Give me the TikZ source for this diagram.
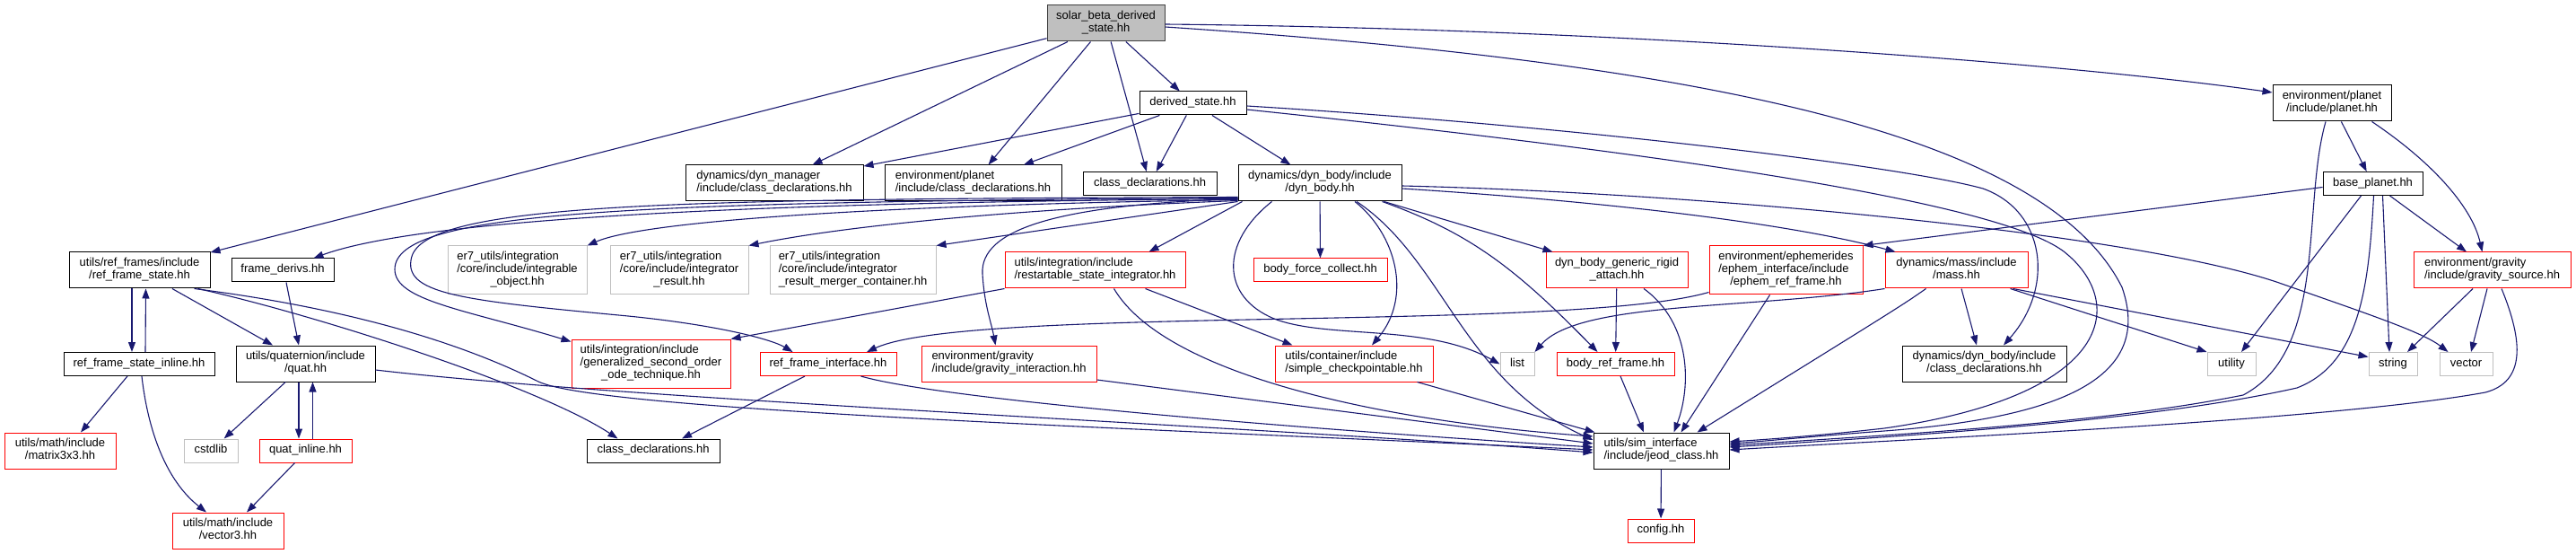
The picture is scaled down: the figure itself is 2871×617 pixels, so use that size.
\documentclass[tikz,border=0pt]{standalone}
\usepackage{fontspec}
\setmainfont{Liberation Sans}
\usetikzlibrary{arrows.meta,calc}
\definecolor{edgec}{HTML}{191970}
\definecolor{graybd}{HTML}{BFBFBF}
\definecolor{rootfill}{HTML}{BFBFBF}
\definecolor{rootbd}{HTML}{404040}
\definecolor{redbd}{HTML}{FF0000}
\newcommand{\ml}[2]{\begin{tabular}{@{}l@{}}#1\\\multicolumn{1}{@{}c@{}}{#2}\end{tabular}}
\newcommand{\one}[1]{\begin{tabular}{@{}c@{}}#1\end{tabular}}
\begin{document}
\begin{tikzpicture}[x=1pt,y=-1pt,
  every node/.style={font=\fontsize{13}{14}\selectfont},
  box/.style={draw, rectangle, inner sep=0pt, line width=1pt, align=center},
  doc/.style={box, draw=black},
  ext/.style={box, draw=graybd},
  trunc/.style={box, draw=redbd},
  root/.style={box, draw=rootbd, fill=rootfill},
  e/.style={draw=edgec, line width=1.1pt, -{Triangle[length=11pt,width=8pt]}}]
\fill[white] (0,0) rectangle (2871,617);
\useasboundingbox (0,0) rectangle (2871,617);

% nodes
\node[root, minimum width=131pt, minimum height=40pt] (solar) at (1232.5,26) {\ml{solar\_beta\_derived}{\_state.hh}};
\node[doc, minimum width=119pt, minimum height=26pt] (derived) at (1329.5,115) {\one{derived\_state.hh}};
\node[doc, minimum width=198pt, minimum height=40pt] (dmcd) at (863,204) {\ml{dynamics/dyn\_manager}{/include/class\_declarations.hh}};
\node[doc, minimum width=197pt, minimum height=40pt] (epcd) at (1084.5,204) {\ml{environment/planet}{/include/class\_declarations.hh}};
\node[doc, minimum width=149pt, minimum height=26pt] (cd) at (1281.5,204.5) {\one{class\_declarations.hh}};
\node[doc, minimum width=182pt, minimum height=40pt] (dynbody) at (1471,204) {\ml{dynamics/dyn\_body/include}{/dyn\_body.hh}};
\node[doc, minimum width=132pt, minimum height=40pt] (planet) at (2599,115) {\ml{environment/planet}{/include/planet.hh}};
\node[doc, minimum width=111pt, minimum height=26pt] (baseplanet) at (2644.5,204.5) {\one{base\_planet.hh}};

\node[doc, minimum width=157pt, minimum height=40pt] (rfs) at (155.5,301) {\ml{utils/ref\_frames/include}{/ref\_frame\_state.hh}};
\node[doc, minimum width=114pt, minimum height=26pt] (framederivs) at (315,301) {\one{frame\_derivs.hh}};
\node[ext, minimum width=155pt, minimum height=54pt] (er7a) at (576.5,301) {\ml{er7\_utils/integration\\/core/include/integrable}{\_object.hh}};
\node[ext, minimum width=154pt, minimum height=54pt] (er7b) at (757,301) {\ml{er7\_utils/integration\\/core/include/integrator}{\_result.hh}};
\node[ext, minimum width=185pt, minimum height=54pt] (er7c) at (950.5,301) {\ml{er7\_utils/integration\\/core/include/integrator}{\_result\_merger\_container.hh}};
\node[trunc, minimum width=201pt, minimum height=40pt] (restart) at (1220.5,301) {\ml{utils/integration/include}{/restartable\_state\_integrator.hh}};
\node[trunc, minimum width=149pt, minimum height=26pt] (bfc) at (1471.5,301) {\one{body\_force\_collect.hh}};
\node[trunc, minimum width=158pt, minimum height=40pt] (rigid) at (1802,301) {\ml{dyn\_body\_generic\_rigid}{\_attach.hh}};
\node[trunc, minimum width=171pt, minimum height=54pt] (ephem) at (1990.5,301) {\ml{environment/ephemerides\\/ephem\_interface/include}{/ephem\_ref\_frame.hh}};
\node[trunc, minimum width=159pt, minimum height=40pt] (mass) at (2180.5,301) {\ml{dynamics/mass/include}{/mass.hh}};
\node[trunc, minimum width=175pt, minimum height=40pt] (gsrc) at (2777.5,301) {\ml{environment/gravity}{/include/gravity\_source.hh}};

\node[doc, minimum width=168pt, minimum height=26pt] (rfsi) at (155,405.5) {\one{ref\_frame\_state\_inline.hh}};
\node[doc, minimum width=155pt, minimum height=40pt] (quat) at (340.5,405) {\ml{utils/quaternion/include}{/quat.hh}};
\node[trunc, minimum width=177pt, minimum height=54pt] (gsoo) at (725.5,405) {\ml{utils/integration/include\\/generalized\_second\_order}{\_ode\_technique.hh}};
\node[trunc, minimum width=152pt, minimum height=26pt] (rfi) at (923,405.5) {\one{ref\_frame\_interface.hh}};
\node[trunc, minimum width=195pt, minimum height=40pt] (gint) at (1124.5,405) {\ml{environment/gravity}{/include/gravity\_interaction.hh}};
\node[trunc, minimum width=176pt, minimum height=40pt] (scp) at (1509,405) {\ml{utils/container/include}{/simple\_checkpointable.hh}};
\node[ext, minimum width=38pt, minimum height=26pt] (list) at (1691,405.5) {\one{list}};
\node[trunc, minimum width=131pt, minimum height=26pt] (brf) at (1800.5,405.5) {\one{body\_ref\_frame.hh}};
\node[doc, minimum width=183pt, minimum height=40pt] (dbcd) at (2211.5,405) {\ml{dynamics/dyn\_body/include}{/class\_declarations.hh}};
\node[ext, minimum width=54pt, minimum height=26pt] (utility) at (2487,405.5) {\one{utility}};
\node[ext, minimum width=54pt, minimum height=26pt] (string) at (2667,405.5) {\one{string}};
\node[ext, minimum width=59pt, minimum height=26pt] (vector) at (2748.5,405.5) {\one{vector}};

\node[trunc, minimum width=124pt, minimum height=40pt] (m33) at (67,502) {\ml{utils/math/include}{/matrix3x3.hh}};
\node[ext, minimum width=60pt, minimum height=26pt] (cstdlib) at (235,502) {\one{cstdlib}};
\node[trunc, minimum width=103pt, minimum height=26pt] (qinl) at (340.5,502) {\one{quat\_inline.hh}};
\node[doc, minimum width=148pt, minimum height=26pt] (cd2) at (728,502) {\one{class\_declarations.hh}};
\node[doc, minimum width=151pt, minimum height=40pt] (jeod) at (1851.5,502) {\ml{utils/sim\_interface}{/include/jeod\_class.hh}};
\node[trunc, minimum width=124pt, minimum height=40pt] (v3) at (254,591) {\ml{utils/math/include}{/vector3.hh}};
\node[trunc, minimum width=74pt, minimum height=26pt] (config) at (1851,591) {\one{config.hh}};

% solar edges
\draw[e] (solar) -- (rfs);
\draw[e] (solar) -- (dmcd);
\draw[e] (solar) -- (epcd);
\draw[e] (solar) -- (cd);
\draw[e] (solar) -- (derived);
\draw[e] ($(solar.east)+(0,1)$) .. controls (1800,32) and (2300,70) .. ($(planet.west)+(0,-12)$);
\draw[e] ($(solar.east)+(0,4)$) .. controls (1900,70) and (2280,150) .. (2365,320) .. controls (2400,420) and (2300,465) .. (2100,480) .. controls (2020,486) and (1960,492) .. ($(jeod.east)+(0,-8)$);

% derived edges
\draw[e] (derived) -- (dmcd);
\draw[e] (derived) -- (epcd);
\draw[e] (derived) -- (cd);
\draw[e] (derived) -- (dynbody);
\draw[e] ($(derived.east)+(0,3)$) .. controls (1750,140) and (2120,185) .. (2210,210) .. controls (2280,235) and (2290,320) .. ($(dbcd.north)+(21.5,0)$);
\draw[e] ($(derived.east)+(0,7)$) .. controls (1800,165) and (2220,220) .. (2300,280) .. controls (2370,335) and (2360,440) .. (2100,477) .. controls (2020,486) and (1960,490) .. ($(jeod.east)+(0,-10)$);

% dyn_body edges
\draw[e] ($(dynbody.south west)+(0,-3)$) .. controls (900,225) and (480,240) .. ($(framederivs.north east)+(-23,0)$);
\draw[e] ($(dynbody.south west)+(0,-2)$) .. controls (1000,228) and (720,245) .. (er7a.north east);
\draw[e] ($(dynbody.south west)+(0,-1)$) .. controls (1150,232) and (950,250) .. (er7b.north east);
\draw[e] (dynbody.south west) -- (er7c.north east);
\draw[e] ($(dynbody.south west)+(0,-4)$) .. controls (700,225) and (440,235) .. (440,300) .. controls (440,335) and (520,345) .. ($(gsoo.north west)+(0,3)$);
\draw[e] ($(dynbody.south west)+(0,-5)$) .. controls (750,222) and (465,225) .. (458,290) .. controls (452,328) and (520,335) .. (700,352) .. controls (800,362) and (860,378) .. ($(rfi.north west)+(37,0)$);
\draw[e] ($(dynbody.south west)+(5,0)$) -- ($(restart.north)+(60,0)$);
\draw[e] ($(dynbody.south west)+(0,-3)$) .. controls (1180,228) and (1092,255) .. (1095,305) .. controls (1097,340) and (1105,360) .. ($(gint.north)+(-15,0)$);
\draw[e] (dynbody) -- (bfc);
\draw[e] ($(dynbody.south)+(39,0)$) .. controls (1555,260) and (1575,330) .. ($(scp.north)+(20,0)$);
\draw[e] ($(dynbody.south west)+(38,0)$) .. controls (1360,270) and (1360,330) .. (1420,355) .. controls (1480,378) and (1590,360) .. (list.west);
\draw[e] ($(dynbody.south)+(41,0)$) .. controls (1610,290) and (1630,425) .. ($(jeod.west)+(0,-12)$);
\draw[e] ($(dynbody.south east)+(-22,0)$) .. controls (1640,260) and (1690,300) .. ($(brf.north)+(-20,0)$);
\draw[e] ($(dynbody.south east)+(-20,0)$) -- ($(rigid.north west)+(8,0)$);
\draw[e] ($(dynbody.east)+(0,6)$) .. controls (1800,225) and (2000,250) .. ($(mass.north west)+(12,0)$);
\draw[e] ($(dynbody.east)+(0,3)$) .. controls (1900,215) and (2380,260) .. (2540,315) .. controls (2640,350) and (2700,370) .. ($(vector.north west)+(10,0)$);

% ref_frame_state edges
\draw[e] ($(rfs.south)+(-8.5,0)$) -- ($(rfsi.north)+(-8,0)$);
\draw[e] ($(rfsi.north)+(7,0)$) -- ($(rfs.south)+(7,0)$);
\draw[e] (rfs) -- (quat);
\draw[e] ($(rfs.south east)+(-14,0)$) .. controls (350,350) and (600,430) .. ($(cd2.north west)+(35,0)$);
\draw[e] ($(rfs.south east)+(-18,0)$) .. controls (400,345) and (520,385) .. (600,425) .. controls (670,458) and (1300,478) .. ($(jeod.west)+(0,-1)$);
\draw[e] ($(rfsi.south)+(-13,0)$) -- ($(m33.north)+(23,0)$);
\draw[e] ($(rfsi.south)+(3,0)$) .. controls (165,480) and (185,535) .. ($(v3.north)+(-24,0)$);

% quaternion
\draw[e] ($(framederivs.south)+(4,0)$) -- ($(quat.north)+(-7.5,0)$);
\draw[e] (quat) -- (cstdlib);
\draw[e] ($(quat.south)+(-7.5,0)$) -- ($(qinl.north)+(-7.5,0)$);
\draw[e] ($(qinl.north)+(8,0)$) -- ($(quat.south)+(8,0)$);
\draw[e] ($(qinl.south)+(-12,0)$) -- ($(v3.north)+(21,0)$);
\draw[e] ($(quat.east)+(0,7)$) .. controls (700,445) and (1400,475) .. ($(jeod.west)+(0,2)$);

% integration
\draw[e] (restart.south west) -- (gsoo.north east);
\draw[e] ($(restart.south)+(56,0)$) -- ($(scp.north west)+(20,0)$);
\draw[e] ($(restart.south)+(21,0)$) .. controls (1300,420) and (1550,470) .. ($(jeod.west)+(0,-16)$);
\draw[e] ($(gint.east)+(0,18)$) -- ($(jeod.west)+(0,-8)$);
\draw[e] ($(rfi.south)+(-26,0)$) -- ($(cd2.north)+(32,0)$);
\draw[e] ($(rfi.south east)+(-40,0)$) .. controls (1050,445) and (1450,478) .. ($(jeod.west)+(0,-4)$);
\draw[e] ($(scp.south east)+(-18,0)$) -- ($(jeod.north west)+(2,0)$);
\draw[e] ($(brf.south)+(5.5,0)$) -- ($(jeod.north)+(-19.5,0)$);
\draw[e] (rigid) -- (brf);
\draw[e] ($(rigid.south)+(30,0)$) .. controls (1885,360) and (1885,430) .. ($(jeod.north)+(14,0)$);
\draw[e] ($(ephem.south)+(-18,0)$) -- ($(jeod.north)+(22,0)$);
\draw[e] ($(ephem.south west)+(0,-3)$) .. controls (1750,370) and (1080,340) .. ($(rfi.north)+(43,0)$);

% mass
\draw[e] (mass.south west) .. controls (1950,345) and (1760,335) .. (list.north east);
\draw[e] ($(mass.south west)+(46,0)$) .. controls (2120,340) .. ($(jeod.north east)+(-36,0)$);
\draw[e] ($(mass.south)+(5.5,0)$) -- ($(dbcd.north)+(-8.5,0)$);
\draw[e] ($(mass.south east)+(-20,0)$) -- (utility.north west);
\draw[e] ($(mass.south east)+(-17,0)$) -- ($(string.west)+(0,-8)$);

% planet
\draw[e] (planet) -- (baseplanet);
\draw[e] ($(planet.south east)+(-22,0)$) .. controls (2710,180) and (2755,230) .. ($(gsrc.north)+(-11,0)$);
\draw[e] ($(planet.south)+(-7,0)$) .. controls (2565,230) and (2595,390) .. (2500,440) .. controls (2350,470) and (2150,482) .. ($(jeod.east)+(0,-6)$);
\draw[e] ($(baseplanet.west)+(0,4)$) -- (ephem.north east);
\draw[e] ($(baseplanet.south east)+(-37,0)$) -- ($(gsrc.north)+(-28.5,0)$);
\draw[e] ($(baseplanet.south)+(-13,0)$) -- ($(utility.north)+(11,0)$);
\draw[e] ($(baseplanet.south)+(11,0)$) -- ($(string.north)+(-4,0)$);
\draw[e] ($(baseplanet.south)+(1,0)$) .. controls (2640,320) and (2630,405) .. (2560,432) .. controls (2400,468) and (2150,484) .. ($(jeod.east)+(0,-4)$);
\draw[e] ($(gsrc.south)+(-21.5,0)$) -- ($(string.north)+(16,0)$);
\draw[e] ($(gsrc.south)+(-5.5,0)$) -- ($(vector.north)+(5.5,0)$);
\draw[e] ($(gsrc.south)+(10.5,0)$) .. controls (2812,380) and (2815,425) .. (2770,437) .. controls (2600,468) and (2150,488) .. ($(jeod.east)+(0,-1)$);

\draw[e] (jeod) -- (config);
\end{tikzpicture}
\end{document}
